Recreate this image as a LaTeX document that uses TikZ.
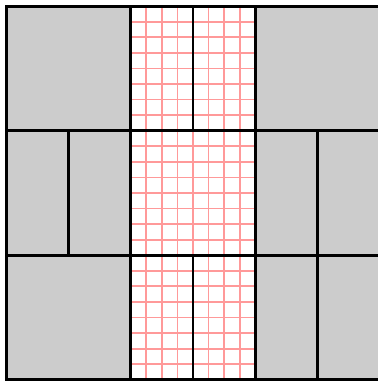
\documentclass[tikz,border=0pt]{standalone}
\usetikzlibrary{positioning}
\definecolor{block}{HTML}{CCCCCC}
\definecolor{mesh}{HTML}{FF9999}

\begin{document}
\begin{tikzpicture}[x=3cm,y=3cm]
  \fill[white] (-0.05,-0.01) rectangle (2.985,3.05);
  \useasboundingbox (-0.05,-0.01) rectangle (2.985,3.05);

  % Grey side columns
  \fill[block] (0,0) rectangle (1,3);
  \fill[block] (2,0) rectangle (3,3);

  % Fine mesh in the middle column
  \foreach \i in {0,...,8} {
    \draw[mesh,line width=1.2pt] (1+\i/8,0) -- (1+\i/8,3);
  }
  \foreach \j in {0,...,24} {
    \draw[mesh,line width=1.2pt] (1,\j/8) -- (2,\j/8);
  }

  % Partition lines
  \draw[line width=2pt] (0,0) rectangle (3,3);
  \draw[line width=2pt] (1,0) -- (1,3);
  \draw[line width=2pt] (2,0) -- (2,3);
  \draw[line width=2pt] (0,1) -- (3,1);
  \draw[line width=2pt] (0,2) -- (3,2);
  \draw[line width=2pt] (1.5,2) -- (1.5,3);
  \draw[line width=2pt] (1.5,0) -- (1.5,1);
  \draw[line width=2pt] (0.5,1) -- (0.5,2);
  \draw[line width=2pt] (2.5,0) -- (2.5,2);
\end{tikzpicture}
\end{document}
